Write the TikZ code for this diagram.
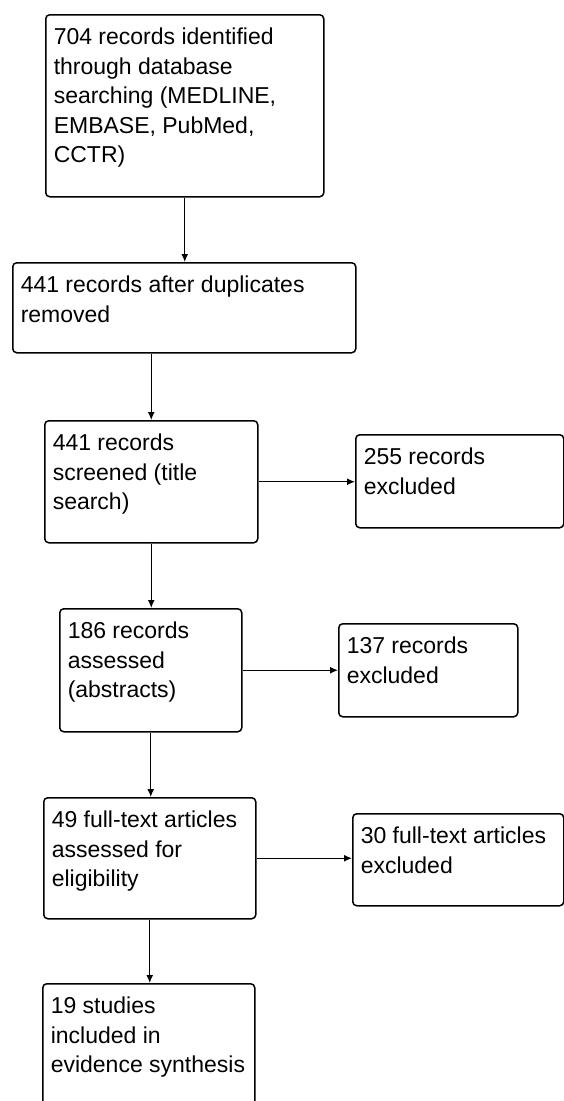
\documentclass[tikz,border=0pt]{standalone}
\usepackage{fontspec}
\setmainfont{Liberation Sans}
\usetikzlibrary{arrows.meta}

\newcommand{\stagetext}[3]{\parbox[t][#2][t]{#1}{\raggedright\rule{0pt}{30pt}#3}}

\tikzset{
  stage/.style={draw, line width=1.5pt, rounded corners=4pt, inner xsep=8pt, inner ysep=0pt,
    anchor=north west, font=\fontsize{23}{29.5}\selectfont},
  conn/.style={-{Latex[length=8pt,width=7pt]}, line width=1.3pt}
}

\begin{document}
\begin{tikzpicture}[x=1pt,y=1pt]
\useasboundingbox (0,0) rectangle (564,-1101);

\node[stage] (ident) at (45,-14) {\stagetext{262pt}{182pt}{704 records identified\\through database\\searching (MEDLINE,\\EMBASE, PubMed,\\CCTR)}};
\node[stage] (dedup) at (12,-262) {\stagetext{327pt}{90pt}{441 records after duplicates\\removed}};
\node[stage] (screen) at (44,-420) {\stagetext{197pt}{122pt}{441 records\\screened (title\\search)}};
\node[stage] (exscreen) at (355,-434) {\stagetext{192pt}{93pt}{255 records\\excluded}};
\node[stage] (abstr) at (59,-608) {\stagetext{166pt}{123pt}{186 records\\assessed\\(abstracts)}};
\node[stage] (exabstr) at (338,-623) {\stagetext{163pt}{93pt}{137 records\\excluded}};
\node[stage] (fulltext) at (43,-797) {\stagetext{196pt}{121pt}{49 full-text articles\\assessed for\\eligibility}};
\node[stage] (exfull) at (352,-813) {\stagetext{195pt}{92pt}{30 full-text articles\\excluded}};
\node[stage] (incl) at (42,-983) {\stagetext{196pt}{135pt}{19 studies\\included in\\evidence synthesis}};

\draw[conn] (ident.south) -- (ident.south |- dedup.north);
\draw[conn] (dedup.south -| screen.north) -- (screen.north);
\draw[conn] (screen.south) -- (screen.south |- abstr.north);
\draw[conn] (abstr.south) -- (abstr.south |- fulltext.north);
\draw[conn] (fulltext.south) -- (fulltext.south |- incl.north);
\draw[conn] (screen.east) -- (screen.east -| exscreen.west);
\draw[conn] (abstr.east) -- (abstr.east -| exabstr.west);
\draw[conn] (fulltext.east) -- (fulltext.east -| exfull.west);
\end{tikzpicture}
\end{document}
